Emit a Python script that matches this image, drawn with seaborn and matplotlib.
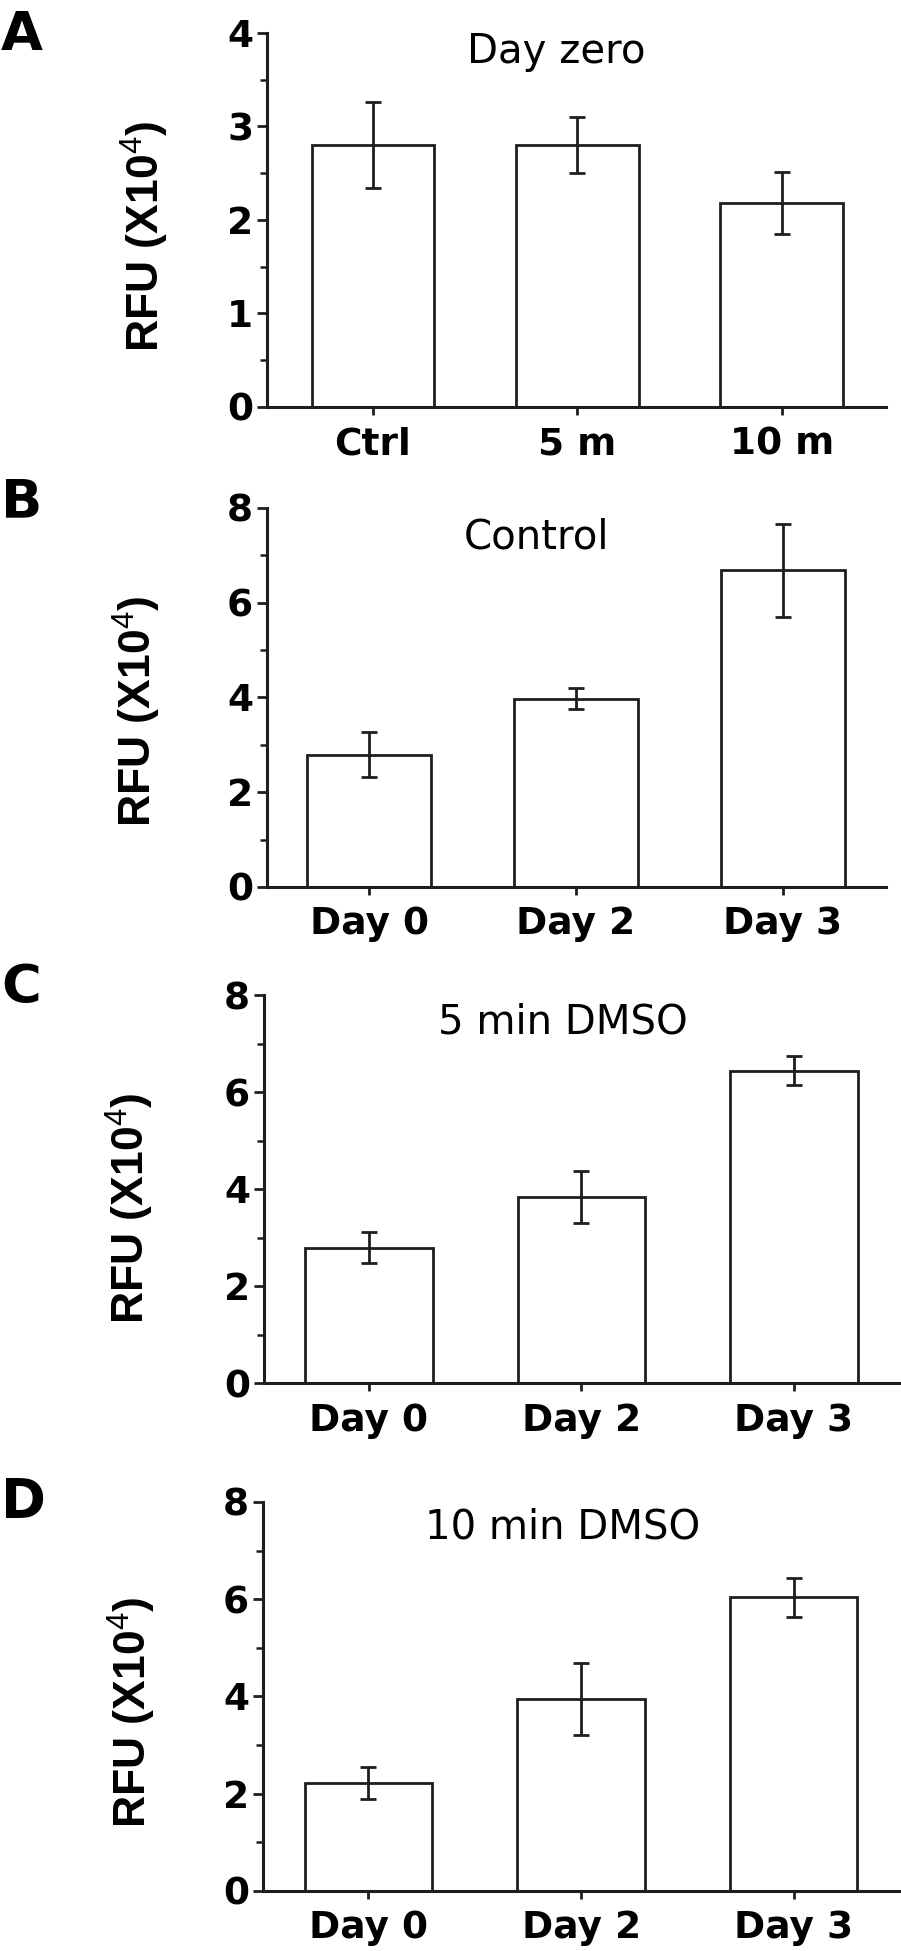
import numpy as np
import pandas as pd
import matplotlib
matplotlib.use('Agg')
import matplotlib.pyplot as plt
import seaborn as sns
from matplotlib.ticker import MultipleLocator

# data (RFU x 10^4, mean and error)
ctrl_cats = ['Ctrl', '5 m', '10 m']
day_cats = ['Day 0', 'Day 2', 'Day 3']

dayzero_vals = [2.80, 2.80, 2.18]
dayzero_err = [0.46, 0.30, 0.33]

control_vals = [2.79, 3.97, 6.68]
control_err = [0.47, 0.22, 0.98]

dmso5_vals = [2.79, 3.83, 6.44]
dmso5_err = [0.32, 0.54, 0.30]

dmso10_vals = [2.21, 3.94, 6.04]
dmso10_err = [0.33, 0.74, 0.40]

sns.set_style('ticks')
plt.rcParams['font.family'] = ['DejaVu Sans']
plt.rcParams['text.color'] = 'black'
plt.rcParams['xtick.color'] = 'black'
plt.rcParams['ytick.color'] = 'black'
plt.rcParams['axes.labelcolor'] = 'black'
plt.rcParams['mathtext.fontset'] = 'custom'
plt.rcParams['mathtext.rm'] = 'Liberation Sans'
plt.rcParams['mathtext.default'] = 'rm'

LINE = '#1e1e1e'

fig = plt.figure(figsize=(9.01, 19.51), dpi=100)

panels = [
    # letter, title, cats, vals, err, rect, xlim, ytop, major, title pos, label pos, letter baseline (px)
    ('A', 'Day zero', ctrl_cats, dayzero_vals, dayzero_err,
     [0.2963, 0.7914, 0.687, 0.1917], (-0.518, 2.51), 4, 1, (0.468, 0.92), (-0.155, 0.455), 50),
    ('B', 'Control', day_cats, control_vals, control_err,
     [0.2963, 0.5454, 0.687, 0.1943], (-0.494, 2.50), 8, 2, (0.436, 0.894), (-0.168, 0.464), 517),
    ('C', '5 min DMSO', day_cats, dmso5_vals, dmso5_err,
     [0.2930, 0.2911, 0.7059, 0.1989], (-0.494, 2.50), 8, 2, (0.47, 0.902), (-0.170, 0.451), 1003),
    ('D', '10 min DMSO', day_cats, dmso10_vals, dmso10_err,
     [0.2919, 0.0308, 0.7070, 0.1994], (-0.496, 2.50), 8, 2, (0.47, 0.905), (-0.165, 0.46), 1517),
]

for letter, title, cats, vals, err, rect, xlim, ytop, major, tpos, lpos, lbase in panels:
    ax = fig.add_axes(rect)
    df = pd.DataFrame({'group': cats, 'rfu': vals})
    sns.barplot(data=df, x='group', y='rfu', color='white', saturation=1,
                edgecolor=LINE, linewidth=2.0, width=0.6, errorbar=None, ax=ax)
    ax.errorbar(np.arange(len(cats)), vals, yerr=err, fmt='none',
                ecolor=LINE, elinewidth=2.0, capsize=6, capthick=2.0, zorder=5)

    ax.set_xlim(*xlim)
    ax.set_ylim(0, ytop)
    ax.yaxis.set_major_locator(MultipleLocator(major))
    ax.yaxis.set_minor_locator(MultipleLocator(major / 2))

    sns.despine(ax=ax)
    for side in ['left', 'bottom']:
        ax.spines[side].set_linewidth(2.2)
        ax.spines[side].set_color(LINE)

    ax.tick_params(axis='y', which='major', direction='out', length=7, width=2,
                   color=LINE, pad=3, labelsize=27)
    ax.tick_params(axis='y', which='minor', direction='out', length=5, width=1.8,
                   color=LINE)
    ax.tick_params(axis='x', which='major', direction='out', length=6, width=2,
                   color=LINE, pad=8, labelsize=27)
    for lab in ax.get_xticklabels() + ax.get_yticklabels():
        lab.set_fontweight('bold')

    ax.set_xlabel('')
    ax.set_ylabel('RFU (X10$^{4}$)', fontsize=32, fontweight='bold',
                  family=['Liberation Sans', 'DejaVu Sans'])
    ax.yaxis.set_label_coords(*lpos)

    ax.text(tpos[0], tpos[1], title, transform=ax.transAxes, ha='center',
            va='baseline', fontsize=29)

    fig.text(0.001, 1 - lbase / 1951, letter, ha='left', va='baseline',
             fontsize=39, fontweight='bold')

fig.savefig('out.png', dpi=100)
